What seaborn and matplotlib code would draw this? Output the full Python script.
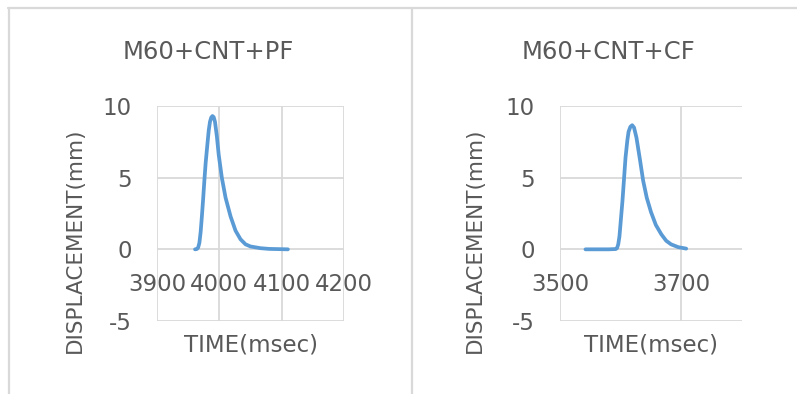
import matplotlib
matplotlib.use("Agg")
import matplotlib.pyplot as plt
from matplotlib.lines import Line2D
import seaborn as sns
import pandas as pd

# Displacement pulses for the two specimens
pf_time = [3961, 3964, 3966, 3968, 3970, 3972, 3974, 3976, 3978, 3981, 3983,
           3985, 3987, 3989, 3991, 3993, 3996, 3999, 4004, 4010, 4018, 4026,
           4034, 4042, 4050, 4066, 4080, 4110]
pf_disp = [0.0, 0.02, 0.12, 0.45, 1.2, 2.3, 3.5, 4.8, 6.0, 7.4, 8.3,
           8.9, 9.2, 9.3, 9.22, 8.9, 7.9, 6.6, 5.0, 3.6, 2.3, 1.3,
           0.7, 0.35, 0.2, 0.08, 0.03, 0.0]

cf_time = [3542, 3560, 3580, 3592, 3594, 3596, 3598, 3600, 3603, 3606, 3608,
           3611, 3613, 3616, 3619, 3622, 3626, 3629, 3632, 3637, 3643, 3650,
           3658, 3667, 3675, 3683, 3695, 3708]
cf_disp = [0.0, 0.0, 0.0, 0.02, 0.08, 0.35, 0.9, 1.9, 3.4, 5.2, 6.4,
           7.6, 8.2, 8.55, 8.66, 8.5, 7.8, 7.0, 6.2, 4.8, 3.6, 2.6,
           1.7, 1.05, 0.6, 0.35, 0.15, 0.05]

titles = ["M60+CNT+PF", "M60+CNT+CF"]
x_ticks = [[3900, 4000, 4100, 4200], [3500, 3700]]
x_limits = [(3900, 4200), (3500, 3800)]
y_ticks = [-5, 0, 5, 10]

sns.set_theme(style="white")
plt.rcParams["font.family"] = ["DejaVu Sans"]
plt.rcParams["axes.unicode_minus"] = False

W, H = 797, 394
fig = plt.figure(figsize=(W / 100, H / 100), dpi=100)

TEXT = "#595959"
GRID = "#d9d9d9"
BLUE = "#5b9bd5"


def fx(px):
    return px / W


def fy(py):
    return 1 - py / H


# chart frames
for seg in [((8, 797), (8, 8)), ((9, 9), (8, 394)), ((411.5, 411.5), (8, 394))]:
    fig.add_artist(Line2D([fx(v) for v in seg[0]], [fy(v) for v in seg[1]],
                          color="#d9d9d9", lw=1.6, transform=fig.transFigure))

frames = [pd.DataFrame({"time": pf_time, "disp": pf_disp}),
          pd.DataFrame({"time": cf_time, "disp": cf_disp})]
axes_px = [(157, 344), (560, 742)]
title_x = [208, 608]
ylabel_x = [75, 475]

for i, df in enumerate(frames):
    x0, x1 = axes_px[i]
    ax = fig.add_axes([fx(x0), fy(321), (x1 - x0) / W, (321 - 106) / H])
    sns.lineplot(data=df, x="time", y="disp", ax=ax, color=BLUE, lw=2.7,
                 solid_capstyle="round", solid_joinstyle="round")
    ax.set_xlim(*x_limits[i])
    ax.set_ylim(-5, 10)
    ax.set_xticks(x_ticks[i])
    ax.set_yticks(y_ticks)
    ax.set_yticklabels([str(t) for t in y_ticks])
    ax.grid(True, color=GRID, lw=1.3)
    ax.set_axisbelow(True)
    for s in ["top", "right", "left"]:
        ax.spines[s].set_visible(False)
    ax.spines["bottom"].set_position(("data", 0))
    ax.spines["bottom"].set_visible(False)
    ax.tick_params(axis="x", length=0, pad=17, labelsize=16.5, colors=TEXT)
    ax.tick_params(axis="y", length=0, pad=18, labelsize=16.5, colors=TEXT)
    ax.set_xlabel("")
    ax.set_ylabel("")
    ax.set_xticklabels([str(t) for t in x_ticks[i]])
    fig.text(fx((x0 + x1) / 2), fy(345), "TIME(msec)", ha="center", va="center",
             fontsize=16.5, color=TEXT)
    fig.text(fx(ylabel_x[i]), fy(240), "DISPLACEMENT(mm)", ha="center", va="center",
             rotation=90, fontsize=15.5, color=TEXT)
    fig.text(fx(title_x[i]), fy(52), titles[i], ha="center", va="center",
             fontsize=17.5, color=TEXT)

fig.savefig("out.png", dpi=100)
